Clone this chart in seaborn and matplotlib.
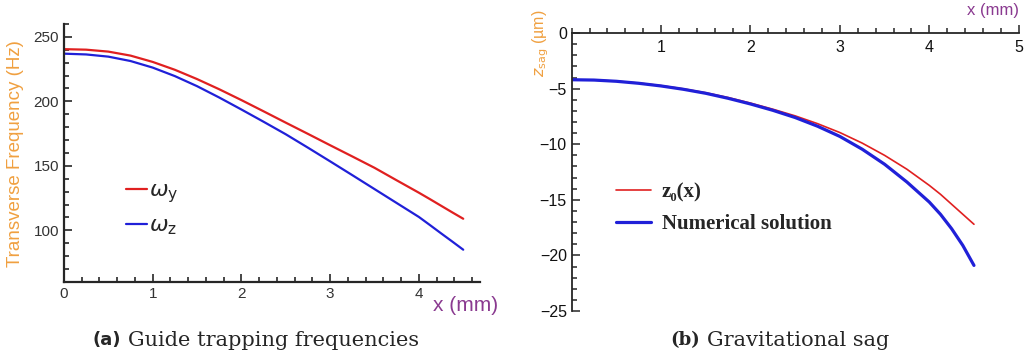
import numpy as np
import pandas as pd
import matplotlib
matplotlib.use("Agg")
import matplotlib.pyplot as plt
from matplotlib.ticker import MultipleLocator, FixedLocator
import seaborn as sns

# x positions along the guide (mm)
x_mm = [0, 0.25, 0.5, 0.75, 1.0, 1.25, 1.5, 1.75, 2.0, 2.25, 2.5,
        2.75, 3.0, 3.25, 3.5, 3.75, 4.0, 4.125, 4.25, 4.375, 4.5]

# (a) transverse trapping frequencies (Hz)
omega_y = [240.5, 240.1, 238.6, 235.5, 230.6, 224.5, 217.3, 209.4, 201.0, 192.3, 183.5,
           174.8, 166.0, 157.3, 148.5, 138.8, 129.2, 124.2, 119.1, 114.0, 109.0]
omega_z = [237.0, 236.4, 234.7, 231.3, 226.2, 219.6, 211.8, 203.0, 193.7, 184.2, 174.5,
           164.1, 153.5, 142.8, 132.0, 121.2, 110.4, 104.1, 97.7, 91.4, 85.0]

# (b) gravitational sag (um)
z0 = [-4.2, -4.23, -4.33, -4.5, -4.73, -5.02, -5.37, -5.8, -6.3, -6.85, -7.45,
      -8.15, -8.95, -9.9, -11.0, -12.25, -13.7, -14.5, -15.4, -16.3, -17.2]
z_num = [-4.2, -4.23, -4.34, -4.52, -4.76, -5.06, -5.42, -5.87, -6.38, -6.95, -7.6,
         -8.38, -9.3, -10.45, -11.8, -13.4, -15.2, -16.3, -17.6, -19.1, -20.9]

sns.set_style("ticks")
plt.rcParams['font.family'] = ['Liberation Sans', 'DejaVu Sans']
plt.rcParams['mathtext.fontset'] = 'dejavusans'

RED = '#e02020'
BLUE = '#2020d8'
ORANGE = '#f0a040'
PURPLE = '#8a3a90'

fig = plt.figure(figsize=(10.3, 3.61), dpi=100)

# ---------- (a) Guide trapping frequencies ----------
ax1 = fig.add_axes([0.0621, 0.219, 0.404, 0.7145])
sns.lineplot(x=x_mm, y=omega_y, ax=ax1, color=RED, lw=1.6, label=r'$\omega_{\rm y}$')
sns.lineplot(x=x_mm, y=omega_z, ax=ax1, color=BLUE, lw=1.6, label=r'$\omega_{\rm z}$')
ax1.set_xlim(0, 4.69)
ax1.set_ylim(60, 260)
ax1.xaxis.set_major_locator(FixedLocator([0, 1, 2, 3, 4]))
ax1.xaxis.set_minor_locator(MultipleLocator(0.2))
ax1.yaxis.set_major_locator(FixedLocator([100, 150, 200, 250]))
ax1.yaxis.set_minor_locator(MultipleLocator(10))
ax1.tick_params(which='both', direction='in', width=1.2, labelsize=11, labelcolor='#333333')
ax1.tick_params(which='major', length=6)
ax1.tick_params(which='minor', length=3.5)
sns.despine(ax=ax1)
for s in ['left', 'bottom']:
    ax1.spines[s].set_linewidth(1.6)
ax1.set_xlabel('')
ax1.set_ylabel('')
ax1.legend(loc='upper left', bbox_to_anchor=(0.10, 0.47), frameon=False,
           fontsize=16, handlelength=0.95, handletextpad=0.1, labelspacing=0.45)
fig.text(0.0146, 0.575, 'Transverse Frequency (Hz)', rotation=90, color=ORANGE,
         fontsize=13.5, ha='center', va='center')
fig.text(466 / 1030, 0.155, 'x (mm)', color=PURPLE, fontsize=15, ha='center', va='center')

# ---------- (b) Gravitational sag ----------
ax2 = fig.add_axes([0.555, 0.1385, 0.434, 0.770])
sns.lineplot(x=x_mm, y=z0, ax=ax2, color=RED, lw=1.2, label='z₀(x)')
sns.lineplot(x=x_mm, y=z_num, ax=ax2, color=BLUE, lw=2.3, label='Numerical solution')
ax2.set_xlim(0, 5)
ax2.set_ylim(-25, 0)
ax2.spines['top'].set_visible(False)
ax2.spines['right'].set_visible(False)
ax2.spines['bottom'].set_position(('data', 0))
for s in ['left', 'bottom']:
    ax2.spines[s].set_linewidth(1.3)
ax2.xaxis.set_major_locator(FixedLocator([1, 2, 3, 4, 5]))
ax2.xaxis.set_minor_locator(MultipleLocator(0.2))
ax2.yaxis.set_major_locator(MultipleLocator(5))
ax2.yaxis.set_minor_locator(MultipleLocator(1))
ax2.tick_params(which='both', direction='in', width=1.1, labelsize=11.5, labelcolor='#111111')
ax2.tick_params(which='major', length=6)
ax2.tick_params(which='minor', length=3.5)
ax2.tick_params(axis='x', pad=5)
ax2.set_xlabel('')
ax2.set_ylabel('')
ax2.legend(loc='center left', bbox_to_anchor=(0.057, 0.37), frameon=False,
           handlelength=1.7, handletextpad=0.5, labelspacing=0.55,
           prop={'family': ['Liberation Serif', 'DejaVu Serif'], 'weight': 'bold', 'size': 15})
fig.text(0.525, 0.88, r'$z_{\rm sag}$ (µm)', rotation=90, color=ORANGE,
         fontsize=11.5, ha='center', va='center')
fig.text(993 / 1030, 0.972, 'x (mm)', color=PURPLE, fontsize=12, ha='center', va='center')

# ---------- captions ----------
fig.text(92 / 1030, 0.058, '(a)', fontsize=13, weight='bold', family='DejaVu Sans',
         ha='left', va='center')
fig.text(128 / 1030, 0.058, 'Guide trapping frequencies', fontsize=15,
         family='DejaVu Serif', ha='left', va='center')
fig.text(670 / 1030, 0.058, '(b)', fontsize=13, weight='bold', family='DejaVu Serif',
         ha='left', va='center')
fig.text(707 / 1030, 0.058, 'Gravitational sag', fontsize=15,
         family='DejaVu Serif', ha='left', va='center')

fig.savefig('out.png', dpi=100)
